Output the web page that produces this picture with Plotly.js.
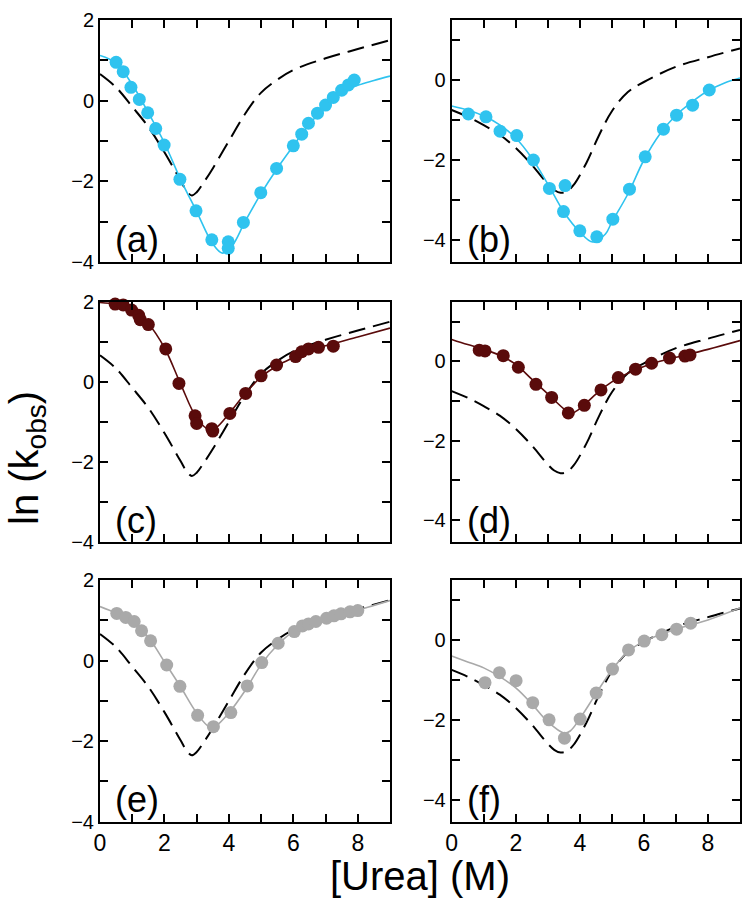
<!DOCTYPE html>
<html>
<head>
<meta charset="utf-8">
<script src="https://cdn.plot.ly/plotly-3.0.1.min.js"></script>
<style>html,body{margin:0;padding:0;background:#fff;}#chart{width:751px;height:904px;}</style>
</head>
<body>
<div id="chart"></div>
<script>
// Reference (dashed) curves
const xDashLeft = [0,0.5,1,1.5,2,2.5,2.7,2.85,3.0,3.2,3.5,4,4.5,5,5.5,6,7,8,9];
const yDashLeft = [0.66,0.33,-0.15,-0.65,-1.28,-1.98,-2.25,-2.35,-2.27,-2.05,-1.68,-1.0,-0.33,0.2,0.52,0.76,1.05,1.28,1.5];
const xDashRight = [0,0.5,1,1.5,2,2.5,3,3.2,3.4,3.6,3.8,4.2,4.6,5,5.5,6,7,8,9];
const yDashRight = [-0.75,-0.92,-1.13,-1.37,-1.7,-2.12,-2.6,-2.75,-2.82,-2.78,-2.63,-2.08,-1.38,-0.78,-0.3,-0.05,0.33,0.57,0.79];

// Panel (a)
const xPtsA = [0.50,0.72,0.96,1.22,1.48,1.73,1.99,2.48,2.98,3.47,3.98,3.98,4.45,4.99,5.48,6.0,6.26,6.47,6.75,7.0,7.24,7.5,7.71,7.89];
const yPtsA = [0.95,0.72,0.33,0.03,-0.30,-0.69,-1.10,-1.95,-2.73,-3.45,-3.50,-3.66,-3.02,-2.28,-1.68,-1.12,-0.83,-0.56,-0.31,-0.11,0.08,0.26,0.39,0.51];
const xFitA = [0,0.5,1,1.5,2,2.5,3,3.5,3.8,4.1,4.5,5,5.5,6,6.5,7,7.5,8,8.5,9];
const yFitA = [1.12,0.93,0.4,-0.3,-1.05,-1.95,-2.75,-3.55,-3.78,-3.6,-3.0,-2.3,-1.68,-1.12,-0.58,-0.15,0.2,0.38,0.5,0.61];

// Panel (b)
const xPtsB = [0.52,1.07,1.51,2.03,2.55,3.05,3.54,3.49,4.0,4.53,5.03,5.55,6.04,6.61,7.02,7.52,8.04];
const yPtsB = [-0.85,-0.92,-1.28,-1.39,-2.0,-2.71,-2.64,-3.29,-3.77,-3.92,-3.48,-2.73,-1.92,-1.23,-0.88,-0.63,-0.25];
const xFitB = [0,0.5,1,1.5,2,2.5,3,3.5,4,4.4,4.8,5,5.5,6,6.5,7,7.5,8,8.5,9];
const yFitB = [-0.65,-0.75,-0.9,-1.12,-1.45,-1.95,-2.6,-3.3,-3.8,-4.05,-3.85,-3.55,-2.85,-2.0,-1.35,-0.88,-0.55,-0.27,-0.08,0.05];

// Panel (c)
const xPtsC = [0.47,0.72,0.98,1.2,1.25,1.5,2.04,2.45,2.95,3.0,3.47,3.5,4.03,4.52,5.0,5.48,6.07,6.26,6.47,6.78,7.24];
const yPtsC = [1.94,1.92,1.79,1.66,1.55,1.43,0.82,-0.04,-0.85,-1.04,-1.17,-1.23,-0.79,-0.29,0.15,0.42,0.63,0.75,0.82,0.86,0.89];
const xFitC = [0,0.5,1,1.5,2,2.5,3,3.4,3.6,4,4.5,5,5.5,6,6.5,7,8,9];
const yFitC = [1.98,1.93,1.78,1.45,0.85,-0.05,-0.9,-1.2,-1.15,-0.8,-0.3,0.12,0.4,0.6,0.78,0.9,1.12,1.34];

// Panel (d)
const xPtsD = [0.86,1.04,1.61,2.08,2.63,3.12,3.64,4.14,4.66,5.2,5.74,6.24,6.8,7.28,7.44];
const yPtsD = [0.28,0.26,0.14,-0.15,-0.58,-0.91,-1.30,-1.11,-0.72,-0.41,-0.2,-0.05,0.08,0.13,0.16];
const xFitD = [0,0.5,1,1.5,2,2.5,3,3.5,3.7,3.9,4.2,4.6,5,5.5,6,6.5,7,8,9];
const yFitD = [0.55,0.42,0.3,0.15,-0.08,-0.45,-0.82,-1.2,-1.32,-1.25,-1.05,-0.76,-0.52,-0.3,-0.13,0,0.1,0.3,0.52];

// Panel (e)
const xPtsE = [0.52,0.8,1.06,1.29,1.57,2.07,2.48,3.03,3.52,4.06,4.57,5.02,5.53,6.03,6.28,6.47,6.7,7.03,7.26,7.48,7.76,8.0];
const yPtsE = [1.17,1.07,0.97,0.74,0.49,-0.11,-0.64,-1.36,-1.64,-1.29,-0.63,-0.05,0.43,0.72,0.86,0.91,0.97,1.05,1.11,1.16,1.21,1.24];
const xFitE = [0,0.5,1,1.5,2,2.5,3,3.4,3.6,4,4.5,5,5.5,6,6.5,7,7.5,8,8.5,9];
const yFitE = [1.34,1.18,0.98,0.58,-0.03,-0.65,-1.3,-1.65,-1.62,-1.3,-0.75,-0.1,0.38,0.72,0.9,1.04,1.15,1.25,1.37,1.49];

// Panel (f)
const xPtsF = [1.04,1.49,2.01,2.53,3.04,3.52,4.01,4.51,5.02,5.52,6.01,6.56,7.02,7.46];
const yPtsF = [-1.07,-0.82,-1.02,-1.57,-2.0,-2.46,-1.98,-1.33,-0.73,-0.25,-0.03,0.13,0.27,0.42];
const xFitF = [0,0.5,1,1.5,2,2.5,3,3.5,3.7,4,4.5,5,5.5,6,6.5,7,8,9];
const yFitF = [-0.4,-0.55,-0.7,-0.92,-1.2,-1.6,-2.05,-2.33,-2.28,-1.97,-1.35,-0.75,-0.3,-0.03,0.13,0.27,0.5,0.8];

const panelLabels = ['(a)','(b)','(c)','(d)','(e)','(f)'];
const xTitle = '[Urea] (M)';
const yTitle = 'ln (k<sub>obs</sub>)';

const CYAN = '#2fc3ef', BROWN = '#5a0b0b', GRAY = '#a9a9a9';

const panels = [
  {px: xPtsA, py: yPtsA, fx: xFitA, fy: yFitA, dx: xDashLeft, dy: yDashLeft, c: CYAN},
  {px: xPtsB, py: yPtsB, fx: xFitB, fy: yFitB, dx: xDashRight, dy: yDashRight, c: CYAN},
  {px: xPtsC, py: yPtsC, fx: xFitC, fy: yFitC, dx: xDashLeft, dy: yDashLeft, c: BROWN},
  {px: xPtsD, py: yPtsD, fx: xFitD, fy: yFitD, dx: xDashRight, dy: yDashRight, c: BROWN},
  {px: xPtsE, py: yPtsE, fx: xFitE, fy: yFitE, dx: xDashLeft, dy: yDashLeft, c: GRAY},
  {px: xPtsF, py: yPtsF, fx: xFitF, fy: yFitF, dx: xDashRight, dy: yDashRight, c: GRAY}
];

const W = 751, H = 904;
const colPx = [[100, 390], [451.7, 740]];
const rowPx = [[20, 262], [301.7, 542], [580, 821.7]];
const FONT = 'Liberation Sans, Arial, Helvetica, sans-serif';

const traces = [];
const layout = {
  width: W, height: H,
  margin: {l: 0, r: 0, t: 0, b: 0},
  paper_bgcolor: '#fff', plot_bgcolor: '#fff',
  showlegend: false,
  font: {family: FONT, color: '#000', size: 20},
  annotations: []
};

panels.forEach((p, i) => {
  const n = i + 1;
  const xa = n === 1 ? 'x' : 'x' + n;
  const ya = n === 1 ? 'y' : 'y' + n;
  const col = i % 2, row = Math.floor(i / 2);
  traces.push({x: p.dx, y: p.dy, xaxis: xa, yaxis: ya, type: 'scatter', mode: 'lines',
    line: {color: '#000', width: 2, dash: '17px,8px', shape: 'spline', smoothing: 1}, hoverinfo: 'skip'});
  traces.push({x: p.fx, y: p.fy, xaxis: xa, yaxis: ya, type: 'scatter', mode: 'lines',
    line: {color: p.c, width: 1.6, shape: 'spline', smoothing: 1}, hoverinfo: 'skip'});
  traces.push({x: p.px, y: p.py, xaxis: xa, yaxis: ya, type: 'scatter', mode: 'markers',
    marker: {color: p.c, size: 13, line: {width: 0}}, cliponaxis: false});

  const xd = [colPx[col][0] / W, colPx[col][1] / W];
  const yd = [1 - rowPx[row][1] / H, 1 - rowPx[row][0] / H];
  const axCommon = {
    showline: true, linecolor: '#000', linewidth: 2, mirror: 'ticks',
    ticks: 'inside', ticklen: 8, tickwidth: 2, tickcolor: '#000',
    showgrid: false, zeroline: false, fixedrange: true
  };
  const minor = {dtick: 1, ticks: 'inside', ticklen: 8, tickwidth: 2, tickcolor: '#000', showgrid: false};
  layout[n === 1 ? 'xaxis' : 'xaxis' + n] = Object.assign({}, axCommon, {
    domain: xd, anchor: ya, range: [0, 9], tick0: 0, dtick: 2, minor: minor,
    showticklabels: row === 2,
    tickfont: {size: 23, family: FONT, color: '#000'}
  });
  layout[n === 1 ? 'yaxis' : 'yaxis' + n] = Object.assign({}, axCommon, {
    domain: yd, anchor: xa, range: col === 0 ? [-4, 2] : [-4.55, 1.5], tick0: 0, dtick: 2, minor: minor,
    showticklabels: true,
    tickfont: {size: 20, family: FONT, color: '#000'}
  });
  layout.annotations.push({
    text: panelLabels[i], xref: 'paper', yref: 'paper',
    x: (colPx[col][0] + 13) / W, y: 1 - (rowPx[row][1] - 22) / H,
    xanchor: 'left', yanchor: 'middle', showarrow: false,
    font: {size: 36, family: FONT, color: '#000'}
  });
});

layout.annotations.push({
  text: xTitle, xref: 'paper', yref: 'paper', x: 420 / W, y: 1 - 876 / H,
  xanchor: 'center', yanchor: 'middle', showarrow: false,
  font: {size: 40, family: FONT, color: '#000'}
});
layout.annotations.push({
  text: yTitle, xref: 'paper', yref: 'paper', x: 27 / W, y: 1 - 458 / H,
  xanchor: 'center', yanchor: 'middle', showarrow: false, textangle: -90,
  font: {size: 40, family: FONT, color: '#000'}
});

Plotly.newPlot('chart', traces, layout, {staticPlot: true, displayModeBar: false});
</script>
</body>
</html>
